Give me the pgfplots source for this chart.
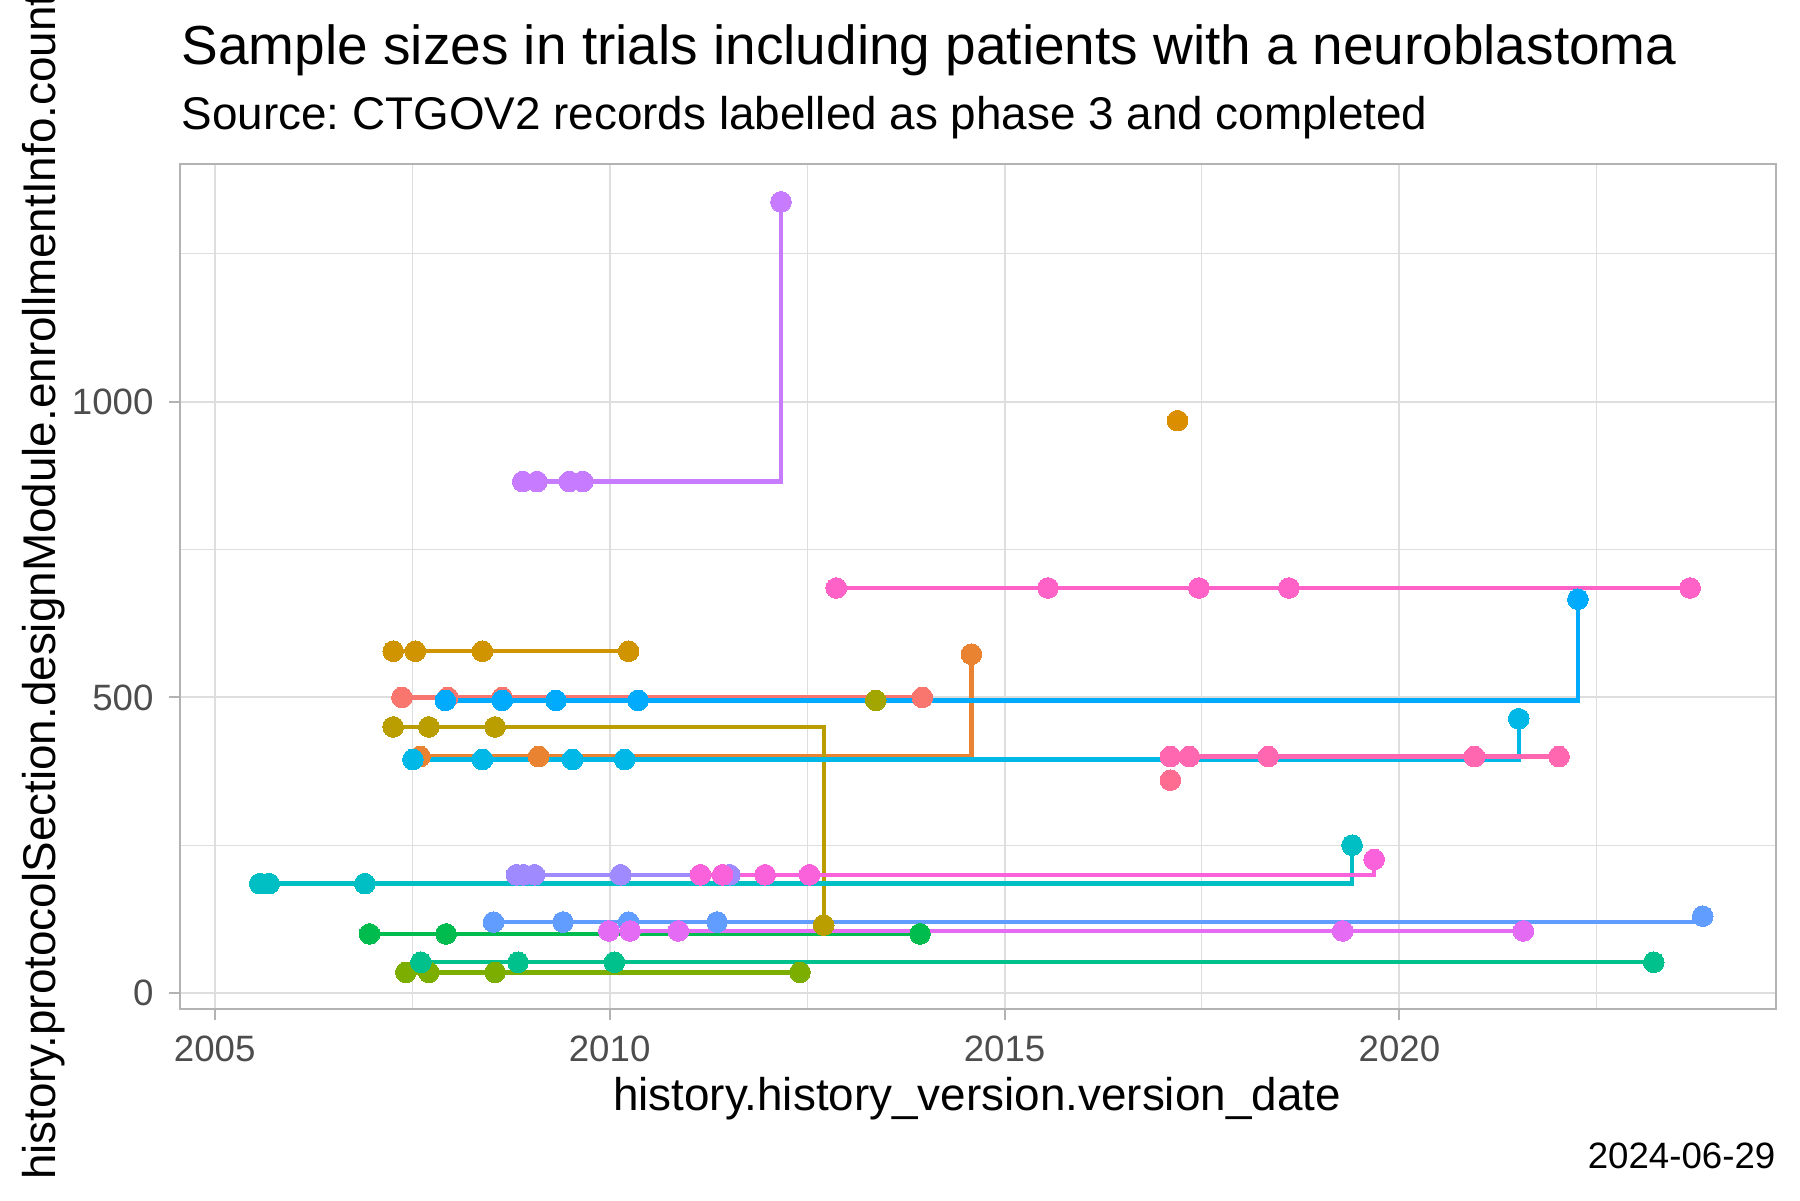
\documentclass[border=0pt]{standalone}
\usepackage{fontspec}
\setmainfont{Liberation Sans}
\usepackage{pgfplots}
\usepackage{pgfplotstable}
\pgfplotsset{compat=1.18}
\frenchspacing

\definecolor{cA}{HTML}{F8766D}
\definecolor{cB}{HTML}{EA8331}
\definecolor{cC}{HTML}{DB8E00}
\definecolor{cD}{HTML}{D09400}
\definecolor{cE}{HTML}{BA9E00}
\definecolor{cF}{HTML}{A3A500}
\definecolor{cG}{HTML}{7CAE00}
\definecolor{cH}{HTML}{00BB4E}
\definecolor{cI}{HTML}{00C08B}
\definecolor{cJ}{HTML}{00BFC4}
\definecolor{cK}{HTML}{00B8E7}
\definecolor{cL}{HTML}{00ABFD}
\definecolor{cM}{HTML}{619CFF}
\definecolor{cN}{HTML}{A08AFF}
\definecolor{cO}{HTML}{C77CFF}
\definecolor{cP}{HTML}{E46CF4}
\definecolor{cQ}{HTML}{FA62DB}
\definecolor{cR}{HTML}{FF62C6}
\definecolor{cS}{HTML}{FF67B0}
\definecolor{cT}{HTML}{FF6C91}
\definecolor{gridc}{HTML}{DEDEDE}
\definecolor{borderc}{HTML}{B3B3B3}
\definecolor{tickc}{HTML}{4D4D4D}

\pgfplotstableread{
x y
2007.37 500
2007.95 500
2008.64 500
2013.96 500
}\sA
\pgfplotstableread{
x y
2007.60 400
2009.10 400
2014.58 573
}\sB
\pgfplotstableread{
x y
2017.19 968
}\sC
\pgfplotstableread{
x y
2007.26 578
2007.54 578
2008.39 578
2010.24 578
}\sD
\pgfplotstableread{
x y
2007.26 450
2007.71 450
2008.55 450
2012.71 115
}\sE
\pgfplotstableread{
x y
2013.37 495
}\sF
\pgfplotstableread{
x y
2007.42 35
2007.71 35
2008.55 35
2012.41 35
}\sG
\pgfplotstableread{
x y
2006.96 100
2007.93 100
2013.93 100
}\sH
\pgfplotstableread{
x y
2007.61 52
2008.84 52
2010.06 52
2023.22 52
}\sI
\pgfplotstableread{
x y
2005.57 185
2005.69 185
2006.90 185
2019.40 250
}\sJ
\pgfplotstableread{
x y
2007.51 395
2008.39 395
2009.53 395
2010.19 395
2021.51 464
}\sK
\pgfplotstableread{
x y
2007.92 495
2008.64 495
2009.32 495
2010.36 495
2022.26 666
}\sL
\pgfplotstableread{
x y
2008.53 120
2009.41 120
2010.24 120
2011.36 120
2023.84 130
}\sM
\pgfplotstableread{
x y
2008.82 200
2008.91 200
2009.05 200
2010.14 200
2011.52 200
}\sN
\pgfplotstableread{
x y
2008.90 865
2009.08 865
2009.49 865
2009.66 865
2012.17 1338
}\sO
\pgfplotstableread{
x y
2009.99 105
2010.26 105
2010.87 105
2019.28 105
2021.57 105
}\sP
\pgfplotstableread{
x y
2011.15 200
2011.43 200
2011.97 200
2012.53 200
2019.68 226
}\sQ
\pgfplotstableread{
x y
2012.87 685
2015.55 685
2017.46 685
2018.60 685
2023.68 685
}\sR
\pgfplotstableread{
x y
2017.10 400
2017.34 400
2018.34 400
2020.95 400
2022.02 400
}\sS
\pgfplotstableread{
x y
2017.10 360
}\sT

\pgfplotsset{
  stepl/.style={const plot mark left, no marks, line width=1.3pt, color=#1},
  pts/.style={only marks, mark=*, mark size=3.1pt, color=#1, mark options={line width=0pt}},
}

\begin{document}
\begin{tikzpicture}[x=1pt,y=1pt]
\path[use as bounding box] (0,0) rectangle (540,360);
\begin{axis}[
  at={(54.06pt,57.3pt)}, anchor=south west,
  width=478.74pt, height=253.5pt, scale only axis,
  xmin=2004.563, xmax=2024.768, ymin=-27, ymax=1402,
  xtick={2005,2010,2015,2020}, xticklabels={2005,2010,2015,2020},
  minor xtick={2007.5,2012.5,2017.5,2022.5},
  ytick={0,500,1000}, yticklabels={0,500,1000},
  minor ytick={250,750,1250},
  grid=both,
  major grid style={color=gridc, line width=0.6pt},
  minor grid style={color=gridc, line width=0.3pt},
  axis line style={color=borderc, line width=0.7pt},
  tick align=outside, major tick length=3.4pt, minor tick length=0pt,
  tick style={color=borderc, line width=0.6pt},
  xtick pos=lower, ytick pos=left,
  xticklabel style={font=\fontsize{11}{13}\selectfont, text=tickc, inner sep=0pt, anchor=north, yshift=-4.4pt},
  yticklabel style={font=\fontsize{11}{13}\selectfont, text=tickc, inner sep=0pt, anchor=east, xshift=-4.4pt},
]
% step lines (horizontal then vertical)
\addplot[stepl=cA] table {\sA};
\addplot[stepl=cB] table {\sB};
\addplot[stepl=cD] table {\sD};
\addplot[stepl=cE] table {\sE};
\addplot[stepl=cG] table {\sG};
\addplot[stepl=cH] table {\sH};
\addplot[stepl=cI] table {\sI};
\addplot[stepl=cJ] table {\sJ};
\addplot[stepl=cK] table {\sK};
\addplot[stepl=cL] table {\sL};
\addplot[stepl=cM] table {\sM};
\addplot[stepl=cN] table {\sN};
\addplot[stepl=cO] table {\sO};
\addplot[stepl=cP] table {\sP};
\addplot[stepl=cQ] table {\sQ};
\addplot[stepl=cR] table {\sR};
\addplot[stepl=cS] table {\sS};
% points
\addplot[pts=cA] table {\sA};
\addplot[pts=cB] table {\sB};
\addplot[pts=cC] table {\sC};
\addplot[pts=cD] table {\sD};
\addplot[pts=cE] table {\sE};
\addplot[pts=cF] table {\sF};
\addplot[pts=cG] table {\sG};
\addplot[pts=cH] table {\sH};
\addplot[pts=cI] table {\sI};
\addplot[pts=cJ] table {\sJ};
\addplot[pts=cK] table {\sK};
\addplot[pts=cL] table {\sL};
\addplot[pts=cM] table {\sM};
\addplot[pts=cN] table {\sN};
\addplot[pts=cO] table {\sO};
\addplot[pts=cP] table {\sP};
\addplot[pts=cQ] table {\sQ};
\addplot[pts=cR] table {\sR};
\addplot[pts=cS] table {\sS};
\addplot[pts=cT] table {\sT};
\end{axis}
\node[anchor=base west, inner sep=0pt, font=\fontsize{16.5}{20}\selectfont] at (54.3,340.6) {Sample sizes in trials including patients with a neuroblastoma};
\node[anchor=base west, inner sep=0pt, font=\fontsize{13.75}{16}\selectfont] at (54.3,321.3) {Source: CTGOV2 records labelled as phase 3 and completed};
\node[anchor=base, inner sep=0pt, font=\fontsize{13.75}{16}\selectfont] at (293.1,27) {history.history\_version.version\_date};
\node[anchor=base, rotate=90, inner sep=0pt, font=\fontsize{13.75}{16}\selectfont] at (16.5,184) {history.protocolSection.designModule.enrollmentInfo.count};
\node[anchor=base east, inner sep=0pt, font=\fontsize{11}{13}\selectfont] at (532.8,9.6) {2024-06-29};
\end{tikzpicture}
\end{document}
